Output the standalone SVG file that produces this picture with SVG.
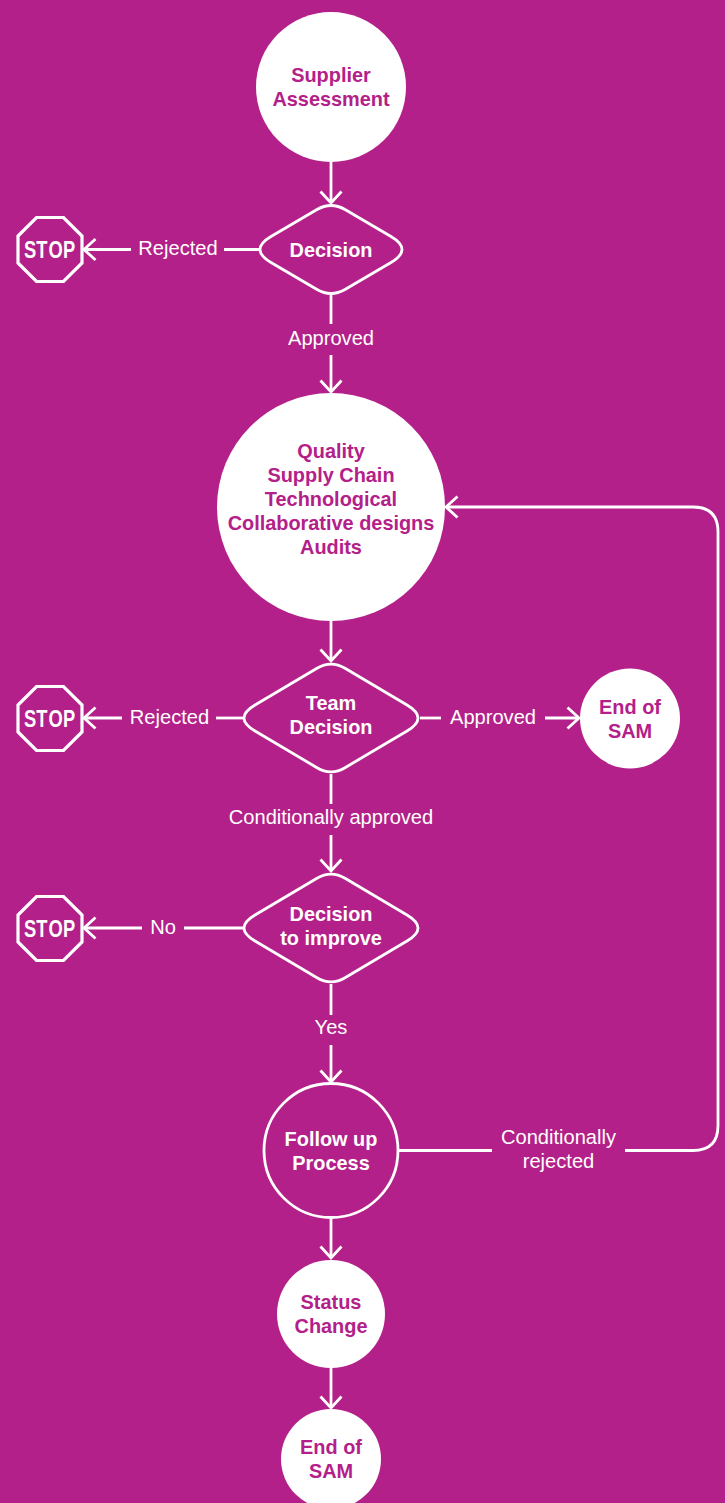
<svg xmlns="http://www.w3.org/2000/svg" width="725" height="1503" viewBox="0 0 725 1503">
<style>
.ln{fill:none;stroke:#fff;stroke-width:2.8}
.a{marker-end:url(#arr)}
.sh{fill:#b42089;stroke:#fff;stroke-width:2.8;stroke-linejoin:round}
.fill{fill:#fff}
text{font-family:"Liberation Sans",Arial,sans-serif;text-anchor:middle}
.b{font-weight:700;font-size:19.9px}
.m{fill:#b42089}
.w{fill:#fff}
.l{fill:#fff;font-size:20.1px}
.stop{font-family:"Liberation Sans Narrow","Liberation Sans",sans-serif;font-weight:700;font-size:23.5px;fill:#fff}
</style>
<defs>
<marker id="arr" markerUnits="userSpaceOnUse" markerWidth="30" markerHeight="30" refX="15" refY="15" orient="auto" overflow="visible">
<path d="M3.500 4.500 L15 15 L3.500 25.500" fill="none" stroke="#fff" stroke-width="2.8"/>
</marker>
<g id="stopsign">
<path class="sh" d="M-13.500 -32 H13.500 L32 -13.500 V13.500 L13.500 32 H-13.500 L-32 13.500 V-13.500 Z" style="stroke-linejoin:miter;stroke-width:3.2"/>
<text class="stop" transform="scale(.78,1)" x="-25.600 -10.300 7.100 24.400" y="8.500">STOP</text>
</g>
</defs>
<rect width="725" height="1503" fill="#b42089"/>
<g id="connectors">
<path class="ln a" d="M331 162V203"/>
<path class="ln" d="M259 249.500H224"/>
<path class="ln a" d="M131 249.500H84"/>
<path class="ln" d="M331 295V324"/>
<path class="ln a" d="M331 355V392"/>
<path class="ln a" d="M331 621V661"/>
<path class="ln" d="M243 718H216"/>
<path class="ln a" d="M122 718H84"/>
<path class="ln" d="M420 718H441"/>
<path class="ln a" d="M545 718H579"/>
<path class="ln" d="M331 774V804"/>
<path class="ln a" d="M331 835V871"/>
<path class="ln" d="M243 928H184"/>
<path class="ln a" d="M142 928H84"/>
<path class="ln" d="M331 984V1015"/>
<path class="ln a" d="M331 1045V1082"/>
<path class="ln" d="M398 1150.500H492"/>
<path class="ln a" d="M625 1150.500H693Q718 1150.500 718 1125.500V532Q718 507 693 507H446"/>
<path class="ln a" d="M331 1218V1258"/>
<path class="ln a" d="M331 1368V1408"/>
</g>
<g id="connector-labels">
<text class="l" x="178" y="255">Rejected</text>
<text class="l" x="331" y="345">Approved</text>
<text class="l" x="169.500" y="724">Rejected</text>
<text class="l" x="493" y="724">Approved</text>
<text class="l" x="331" y="824">Conditionally approved</text>
<text class="l" x="163" y="934">No</text>
<text class="l" x="331" y="1034">Yes</text>
<text class="l" x="558.500" y="1144">Conditionally</text>
<text class="l" x="558.500" y="1168">rejected</text>
</g>
<g id="supplier-assessment">
<circle class="fill" cx="331" cy="87" r="75"/>
<text class="b m" x="331" y="82">Supplier</text>
<text class="b m" x="331" y="106">Assessment</text>
</g>
<g id="decision">
<path class="sh" d="M317 209.500Q331 201.500 345 209.500L391 236.500Q413 249.500 391 262.500L345 289.500Q331 297.500 317 289.500L271 262.500Q249 249.500 271 236.500Z"/>
<text class="b w" x="331" y="257">Decision</text>
</g>
<g id="stop-1"><use href="#stopsign" x="50" y="249.500"/></g>
<g id="quality-group">
<circle class="fill" cx="331" cy="507" r="114"/>
<text class="b m" x="331" y="458">Quality</text>
<text class="b m" x="331" y="482">Supply Chain</text>
<text class="b m" x="331" y="506">Technological</text>
<text class="b m" x="331" y="530">Collaborative designs</text>
<text class="b m" x="331" y="554">Audits</text>
</g>
<g id="team-decision">
<path class="sh" d="M317 668.300Q331 660 345 668.300L407 705Q429 718 407 731L345 767.700Q331 776 317 767.700L255 731Q233 718 255 705Z"/>
<text class="b w" x="331" y="710">Team</text>
<text class="b w" x="331" y="734">Decision</text>
</g>
<g id="stop-2"><use href="#stopsign" x="50" y="718.500"/></g>
<g id="end-of-sam-1">
<circle class="fill" cx="630" cy="718.500" r="50"/>
<text class="b m" x="630" y="714">End of</text>
<text class="b m" x="630" y="738">SAM</text>
</g>
<g id="decision-to-improve">
<path class="sh" d="M317 878.300Q331 870 345 878.300L407 915Q429 928 407 941L345 977.700Q331 986 317 977.700L255 941Q233 928 255 915Z"/>
<text class="b w" x="331" y="921">Decision</text>
<text class="b w" x="331" y="945">to improve</text>
</g>
<g id="stop-3"><use href="#stopsign" x="50" y="928.500"/></g>
<g id="follow-up-process">
<circle class="sh" cx="331" cy="1150.500" r="67"/>
<text class="b w" x="331" y="1146">Follow up</text>
<text class="b w" x="331" y="1170">Process</text>
</g>
<g id="status-change">
<circle class="fill" cx="331" cy="1314" r="54"/>
<text class="b m" x="331" y="1309">Status</text>
<text class="b m" x="331" y="1333">Change</text>
</g>
<g id="end-of-sam-2">
<circle class="fill" cx="331" cy="1459" r="50"/>
<text class="b m" x="331" y="1454">End of</text>
<text class="b m" x="331" y="1478">SAM</text>
</g>
</svg>
